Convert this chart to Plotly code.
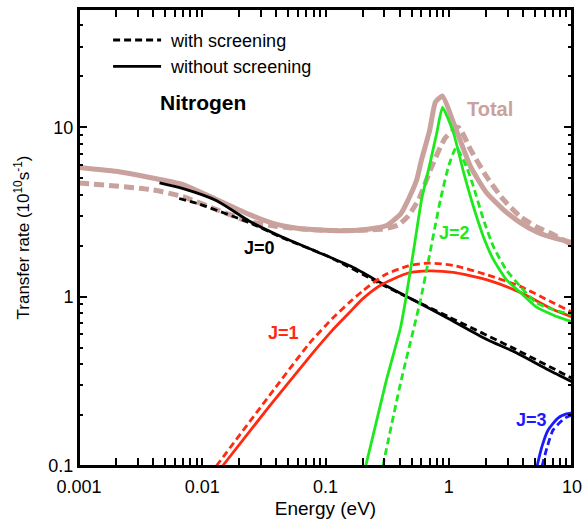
import plotly.graph_objects as go

# ---------------- data ----------------
tot_ns_E = [0.001, 0.002, 0.00375, 0.0069, 0.013, 0.024, 0.04, 0.061, 0.1, 0.15, 0.22, 0.31,
            0.41, 0.47, 0.55, 0.6, 0.7, 0.78, 0.89, 1.09, 1.5, 2.02, 2.77, 3.8, 5.12, 7.02, 10]
tot_ns_V = [5.8, 5.5, 5.06, 4.6, 3.75, 3.06, 2.67, 2.53, 2.47, 2.45, 2.5, 2.62,
            3.1, 3.75, 4.9, 6.4, 9.6, 14.1, 15.3, 10.7, 5.88, 4.12, 3.27, 2.74, 2.42, 2.23, 2.09]

tot_s_E = [0.001, 0.00375, 0.0069, 0.013, 0.024, 0.04, 0.07, 0.11, 0.2, 0.3, 0.39, 0.47,
           0.57, 0.73, 0.94, 1.2, 1.5, 2.02, 2.77, 3.8, 5.12, 7.02, 10]
tot_s_V = [4.7, 4.3, 3.91, 3.27, 2.78, 2.6, 2.5, 2.46, 2.47, 2.52, 2.65, 3.0,
           3.75, 5.9, 8.7, 10.0, 7.41, 5.13, 3.75, 2.97, 2.59, 2.33, 2.03]

j0_ns_E = [0.0045, 0.007, 0.013, 0.024, 0.0445, 0.084, 0.164, 0.31, 0.57, 1.0, 2.02, 3.46,
           6.4, 10]
j0_ns_V = [4.7, 4.35, 3.7, 2.8, 2.25, 1.85, 1.5, 1.16, 0.92, 0.74, 0.56, 0.47, 0.37, 0.314]

j0_s_E = [0.0065, 0.0095, 0.024, 0.0445, 0.107, 0.3, 1.0, 3.46, 10]
j0_s_V = [3.8, 3.52, 2.74, 2.23, 1.72, 1.16, 0.76, 0.49, 0.33]

j1_ns_E = [0.0146, 0.035, 0.074, 0.113, 0.155, 0.2, 0.286, 0.47, 0.69, 1.09, 2.02, 3.8,
           7.02, 10]
j1_ns_V = [0.1, 0.225, 0.44, 0.63, 0.8, 0.97, 1.18, 1.38, 1.42, 1.39, 1.26, 1.06, 0.84, 0.76]

j1_s_E = [0.013, 0.035, 0.074, 0.113, 0.155, 0.2, 0.3, 0.47, 0.69, 1.09, 2.02, 3.8, 7.02, 10]
j1_s_V = [0.1, 0.26, 0.53, 0.74, 0.92, 1.08, 1.34, 1.52, 1.58, 1.53, 1.35, 1.15, 0.92, 0.81]

j2_ns_E = [0.212, 0.308, 0.407, 0.447, 0.52, 0.602, 0.7, 0.8, 0.89, 1.09, 1.32, 1.585,
           1.91, 2.30, 2.93, 3.80, 5.12, 7.02, 10]
j2_ns_V = [0.1, 0.31, 0.66, 0.96, 1.9, 3.75, 6.0, 9.3, 13.1, 9.34, 5.42, 3.41,
           2.26, 1.66, 1.26, 1.06, 0.87, 0.78, 0.71]

j2_s_E = [0.292, 0.407, 0.591, 0.686, 0.857, 1.0, 1.15, 1.39, 1.585, 1.91, 2.30, 2.93,
          3.80, 5.12, 7.02, 10]
j2_s_V = [0.1, 0.31, 0.96, 1.65, 3.75, 5.95, 7.6, 5.88, 4.48, 2.86, 1.98, 1.44,
          1.15, 0.92, 0.84, 0.78]

j3_ns_E = [5.21, 5.7, 6.4, 7.7, 9.0, 10]
j3_ns_V = [0.1, 0.13, 0.163, 0.192, 0.203, 0.206]

j3_s_E = [5.72, 6.3, 7.02, 8.77, 10]
j3_s_V = [0.1, 0.13, 0.163, 0.192, 0.20]

x_ticks = [0.001, 0.01, 0.1, 1, 10]
x_ticklabels = ["0.001", "0.01", "0.1", "1", "10"]
x_minor = [m * 10.0 ** k for k in range(-3, 1) for m in range(2, 10)]
y_ticks = [0.1, 1, 10]
y_ticklabels = ["0.1", "1", "10"]
y_minor = [m * 10.0 ** k for k in range(-1, 1) for m in range(2, 10)] + [20, 30, 40]

# ---------------- styles ----------------
C_TOT = "#c9a19d"
C_J0 = "#000000"
C_J1 = "#ff2a10"
C_J2 = "#1ee81e"
C_J3 = "#1a1aff"
FONT = "Liberation Sans, Arial, Helvetica, sans-serif"
DASH_THIN = "7px,4px"
DASH_THICK = "10px,5px"

fig = go.Figure()


def add(x, y, color, width, dash, name=None, legend=False, smooth=0.6):
    fig.add_trace(go.Scatter(
        x=x, y=y, mode="lines", name=name, showlegend=legend,
        line=dict(color=color, width=width, dash=dash, shape="spline", smoothing=smooth),
        hoverinfo="skip"))


# totals first (drawn underneath)
add(tot_s_E, tot_s_V, C_TOT, 5, DASH_THICK, smooth=0.5)
add(tot_ns_E, tot_ns_V, C_TOT, 5, "solid", smooth=0.5)
# J=0 (also legend carriers)
add(j0_s_E, j0_s_V, C_J0, 2.8, DASH_THIN, name="\u00a0with screening", legend=True)
add(j0_ns_E, j0_ns_V, C_J0, 2.8, "solid", name="\u00a0without screening", legend=True)
# J=1
add(j1_s_E, j1_s_V, C_J1, 2.8, DASH_THIN)
add(j1_ns_E, j1_ns_V, C_J1, 2.8, "solid")
# J=2
add(j2_s_E, j2_s_V, C_J2, 2.8, DASH_THIN, smooth=0.5)
add(j2_ns_E, j2_ns_V, C_J2, 2.8, "solid", smooth=0.5)
# J=3
add(j3_s_E, j3_s_V, C_J3, 2.8, DASH_THIN)
add(j3_ns_E, j3_ns_V, C_J3, 2.8, "solid")
# empty trace that activates the right-hand frame axis
fig.add_trace(go.Scatter(x=[], y=[], yaxis="y2", showlegend=False, hoverinfo="skip"))

# labels (positions in log10 data units)
ann = [
    dict(x=-1.998, y=1.148, text="<b>Nitrogen</b>", color="#000000", size=21),
    dict(x=0.337, y=1.107, text="<b>Total</b>", color=C_TOT, size=20),
    dict(x=-1.537, y=0.29, text="<b>J=0</b>", color="#000000", size=18),
    dict(x=-1.343, y=-0.213, text="<b>J=1</b>", color=C_J1, size=18),
    dict(x=0.046, y=0.379, text="<b>J=2</b>", color=C_J2, size=18),
    dict(x=0.669, y=-0.728, text="<b>J=3</b>", color=C_J3, size=18),
]
for a in ann:
    fig.add_annotation(x=a["x"], y=a["y"], xref="x", yref="y", text=a["text"],
                       showarrow=False, font=dict(family=FONT, size=a["size"], color=a["color"]))

axis_common = dict(
    type="log", showgrid=False, zeroline=False, showline=True, linecolor="#000000",
    linewidth=2, mirror="allticks", ticks="inside", ticklen=8, tickwidth=2, tickcolor="#000000",
    tickfont=dict(family=FONT, size=18, color="#000000"), ticklabeloverflow="allow",
)
y_minor_cfg = dict(tickvals=y_minor, ticks="inside", ticklen=4, tickwidth=1.5,
                   tickcolor="#000000", showgrid=False)

fig.update_xaxes(**axis_common, range=[-3, 1], tickvals=x_ticks, ticktext=x_ticklabels,
                 minor=dict(tickvals=x_minor, ticks="inside", ticklen=4, tickwidth=1.5,
                            tickcolor="#000000", showgrid=False),
                 ticklabelstandoff=3,
                 title=dict(text="Energy (eV)", font=dict(family=FONT, size=19, color="#000000"),
                            standoff=12))
fig.update_layout(
    yaxis=dict(**axis_common, range=[-1, 1.699], tickvals=y_ticks, ticktext=y_ticklabels,
               minor=y_minor_cfg,
               title=dict(text="Transfer rate (10<sup>10</sup>s<sup>-1</sup>)",
                          font=dict(family=FONT, size=17, color="#000000"), standoff=14)),
    yaxis2=dict(type="log", overlaying="y", side="right", anchor="x", range=[-1, 1.699],
                showgrid=False, zeroline=False, showline=True, linecolor="#000000", linewidth=2,
                ticks="inside", ticklen=8, tickwidth=2, tickcolor="#000000",
                tickvals=y_ticks, showticklabels=False, minor=y_minor_cfg),
)

# plot frame (paper-referenced, so it always follows the plotting area)
fig.add_shape(type="rect", xref="paper", yref="paper", x0=0, x1=1, y0=0, y1=1,
              line=dict(color="#000000", width=2), fillcolor="rgba(0,0,0,0)", layer="above")

fig.update_layout(
    width=584, height=519,
    margin=dict(l=79, r=12, t=9, b=53, autoexpand=False),
    paper_bgcolor="#ffffff", plot_bgcolor="#ffffff",
    font=dict(family=FONT, color="#000000"),
    legend=dict(x=0.059, y=0.972, xanchor="left", yanchor="top", bgcolor="rgba(0,0,0,0)",
                font=dict(family=FONT, size=18, color="#000000"), itemwidth=48,
                tracegroupgap=0),
)

# remove the default 8px page margin so the 584x519 figure fills the window exactly
fig.write_html("out.html",
               config={"displayModeBar": False},
               post_script="document.body.style.margin='0px';"
                           "document.body.style.overflow='hidden';")
